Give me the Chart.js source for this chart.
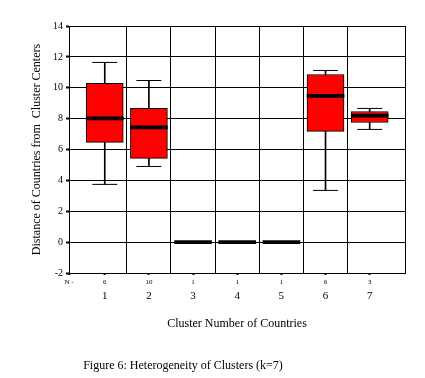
<!DOCTYPE html>
<html>
<head>
<meta charset="utf-8">
<script src="https://cdn.jsdelivr.net/npm/chart.js@4"></script>
<style>
  html, body { margin: 0; padding: 0; background: #fff; }
  #wrap { width: 425px; height: 378px; }
</style>
</head>
<body>
<div id="wrap"><canvas id="box"></canvas></div>
<script>
const clusters = ['1', '2', '3', '4', '5', '6', '7'];
const counts = ['6', '10', '1', '1', '1', '6', '3'];
const whiskerLow = [3.74, 4.9, null, null, null, 3.35, 7.3];
const q1 = [6.46, 5.42, null, null, null, 7.17, 7.75];
const median = [8.01, 7.43, 0, 0, 0, 9.48, 8.2];
const q3 = [10.28, 8.66, null, null, null, 10.86, 8.46];
const whiskerHigh = [11.64, 10.47, null, null, null, 11.12, 8.66];

const xMin = 0.19, xMax = 7.8;
const serif = 'Liberation Serif';
const pos = clusters.map((c, i) => i + 1);

const caption = {
    id: 'caption',
    afterDraw(chart) {
        const ctx = chart.ctx;
        ctx.save();
        ctx.font = '12px "' + serif + '"';
        ctx.fillStyle = '#000';
        ctx.textAlign = 'center';
        ctx.textBaseline = 'middle';
        ctx.fillText('Figure 6: Heterogeneity of Clusters (k=7)', 183, 366);
        ctx.restore();
    }
};

new Chart(document.getElementById('box'), {
    type: 'bar',
    data: {
        datasets: [
            {   // median line
                data: pos.map((x, i) => ({ x: x, y: [median[i] - 0.1, median[i] + 0.1] })),
                backgroundColor: '#000',
                borderWidth: 0,
                barThickness: 37,
                grouped: false
            },
            {   // box q1..q3
                data: pos.map((x, i) => ({ x: x, y: q1[i] == null ? null : [q1[i], q3[i]] })),
                backgroundColor: '#ff0000',
                borderColor: '#000',
                borderWidth: 1,
                borderSkipped: false,
                barThickness: 37,
                grouped: false
            },
            {   // whisker stem
                data: pos.map((x, i) => ({ x: x, y: whiskerLow[i] == null ? null : [whiskerLow[i], whiskerHigh[i]] })),
                backgroundColor: '#000',
                borderWidth: 0,
                barThickness: 1,
                grouped: false
            },
            {   // whisker caps
                type: 'scatter',
                data: pos.flatMap((x, i) => whiskerLow[i] == null ? [] :
                    [{ x: x, y: whiskerLow[i] }, { x: x, y: whiskerHigh[i] }]),
                pointStyle: 'line',
                pointRadius: 12.5,
                borderColor: '#000',
                borderWidth: 1,
                showLine: false
            }
        ]
    },
    options: {
        responsive: true,
        maintainAspectRatio: false,
        animation: false,
        layout: { padding: { left: 30, right: 20, top: 26, bottom: 47 } },
        plugins: {
            legend: { display: false },
            tooltip: { enabled: false }
        },
        scales: {
            x: {
                type: 'linear',
                position: 'bottom',
                offset: false,
                min: xMin,
                max: xMax,
                afterBuildTicks: s => { s.ticks = [xMin, 1.5, 2.5, 3.5, 4.5, 5.5, 6.5, xMax].map(v => ({ value: v })); },
                ticks: { display: false },
                grid: { color: '#000', lineWidth: 1, drawTicks: false, offset: false },
                border: { color: '#000', width: 1 }
            },
            xCount: {
                type: 'linear',
                position: 'bottom',
                offset: false,
                min: xMin,
                max: xMax,
                afterBuildTicks: s => { s.ticks = [xMin].concat(pos).map(v => ({ value: v })); },
                ticks: {
                    autoSkip: false,
                    maxRotation: 0,
                    padding: 3,
                    color: '#000',
                    font: { family: serif, size: 7 },
                    callback: v => v === xMin ? 'N -' : counts[v - 1]
                },
                grid: { drawOnChartArea: false, offset: false, color: 'transparent', tickColor: '#000', tickLength: 2, tickWidth: 2 },
                border: { display: false }
            },
            xNum: {
                type: 'linear',
                position: 'bottom',
                offset: false,
                min: xMin,
                max: xMax,
                afterBuildTicks: s => { s.ticks = pos.map(v => ({ value: v })); },
                ticks: {
                    autoSkip: false,
                    maxRotation: 0,
                    padding: -8,
                    color: '#000',
                    font: { family: serif, size: 11 },
                    callback: v => clusters[v - 1]
                },
                grid: { display: false, offset: false },
                border: { display: false },
                title: {
                    display: true,
                    text: 'Cluster Number of Countries',
                    color: '#000',
                    font: { family: serif, size: 12 },
                    padding: { top: 22, bottom: 0 }
                }
            },
            y: {
                min: -2,
                max: 14,
                afterFit: s => { s.width = 39; },
                ticks: {
                    stepSize: 2,
                    padding: 3,
                    color: '#000',
                    font: { family: serif, size: 10 }
                },
                grid: { color: '#000', lineWidth: 1, tickLength: 3, tickWidth: 2 },
                border: { color: '#000', width: 1 },
                title: {
                    display: true,
                    text: 'Distance of Countries from  Cluster Centers',
                    color: '#000',
                    font: { family: serif, size: 12 },
                    padding: 0
                }
            }
        }
    },
    plugins: [caption]
});
</script>
</body>
</html>
